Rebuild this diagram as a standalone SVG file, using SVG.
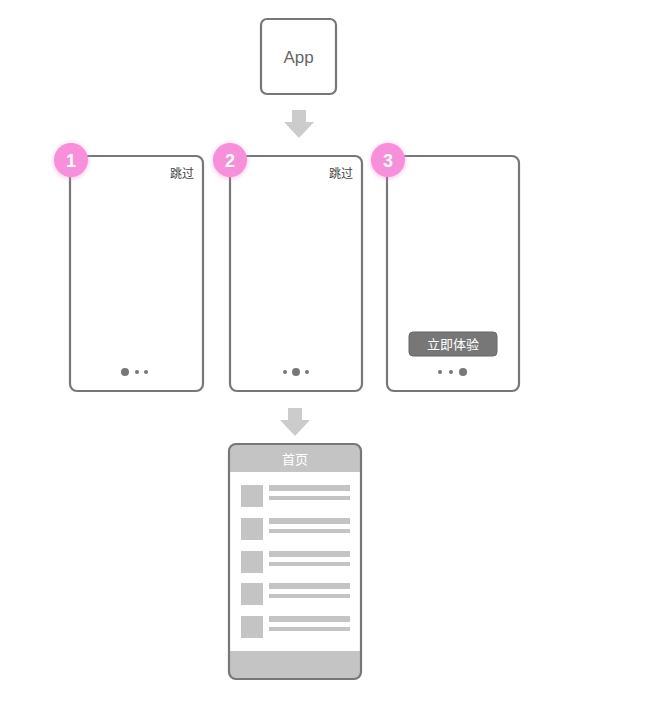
<svg xmlns="http://www.w3.org/2000/svg" width="650" height="722" viewBox="0 0 650 722">
<style>
.ph{fill:#fff;stroke:#777;stroke-width:2.2}
.num{fill:#fff;font:bold 18px "Liberation Sans",sans-serif;text-anchor:middle}
.sk{fill:#444;font:12px "Noto Sans CJK SC",sans-serif;text-anchor:end}
.d{fill:#777}
.g{fill:#c4c4c4}
.ar{fill:#ccc}
</style>
<defs>
<filter id="glow" x="-50%" y="-50%" width="200%" height="200%"><feGaussianBlur stdDeviation="2.5"/></filter>
<g id="row"><rect x="241" y="0" width="22" height="22" class="g"/><rect x="269" y="0" width="81" height="6" class="g"/><rect x="269" y="11" width="81" height="4" class="g"/></g>
</defs>
<g id="app"><rect x="261" y="19" width="75" height="75" rx="6" class="ph"/><text x="298.5" y="63" style="fill:#666;font:17px 'Liberation Sans',sans-serif;text-anchor:middle">App</text></g>
<g id="connectors">
<path class="ar" d="M292,110h14v12h8l-15,16l-15,-16h8z"/>
<path class="ar" d="M288,408h14v12h8l-15,16l-15,-16h8z"/>
</g>
<g id="p1"><rect x="70" y="156" width="133" height="235" rx="7" class="ph"/><text x="194" y="178" class="sk">跳过</text>
<circle cx="125" cy="372" r="4" class="d"/><circle cx="137" cy="372" r="2" class="d"/><circle cx="146" cy="372" r="2" class="d"/></g>
<g id="p2"><rect x="230" y="156" width="132" height="235" rx="7" class="ph"/><text x="353" y="178" class="sk">跳过</text>
<circle cx="285" cy="372" r="2" class="d"/><circle cx="296" cy="372" r="4" class="d"/><circle cx="307" cy="372" r="2" class="d"/></g>
<g id="p3"><rect x="387" y="156" width="132" height="235" rx="7" class="ph"/>
<rect x="409" y="332" width="88" height="24" rx="4" fill="#777" stroke="#666"/><text x="453" y="349" style="fill:#fff;font:13px 'Noto Sans CJK SC',sans-serif;text-anchor:middle">立即体验</text>
<circle cx="440" cy="372" r="2" class="d"/><circle cx="451" cy="372" r="2" class="d"/><circle cx="463" cy="372" r="4" class="d"/></g>
<g id="b1"><circle cx="71" cy="161" r="17" fill="#f78fdb" opacity="0.6" filter="url(#glow)"/><circle cx="71" cy="160" r="17" fill="#f78fdb"/><text x="71" y="167" class="num">1</text></g>
<g id="b2"><circle cx="230" cy="161" r="17" fill="#f78fdb" opacity="0.6" filter="url(#glow)"/><circle cx="230" cy="160" r="17" fill="#f78fdb"/><text x="230" y="167" class="num">2</text></g>
<g id="b3"><circle cx="388" cy="161" r="17" fill="#f78fdb" opacity="0.6" filter="url(#glow)"/><circle cx="388" cy="160" r="17" fill="#f78fdb"/><text x="388" y="167" class="num">3</text></g>
<g id="home">
<clipPath id="hc"><rect x="229" y="444" width="132" height="235" rx="7"/></clipPath>
<rect x="229" y="444" width="132" height="235" rx="7" fill="#fff"/>
<g clip-path="url(#hc)"><rect x="229" y="444" width="132" height="28" class="g"/><rect x="229" y="651" width="132" height="28" class="g"/></g>
<rect x="229" y="444" width="132" height="235" rx="7" fill="none" stroke="#777" stroke-width="2.2"/>
<text x="295" y="464" style="fill:#fff;font:13px 'Noto Sans CJK SC',sans-serif;text-anchor:middle">首页</text>
<use href="#row" y="485"/><use href="#row" y="518"/><use href="#row" y="551"/><use href="#row" y="583"/><use href="#row" y="616"/>
</g>
</svg>
